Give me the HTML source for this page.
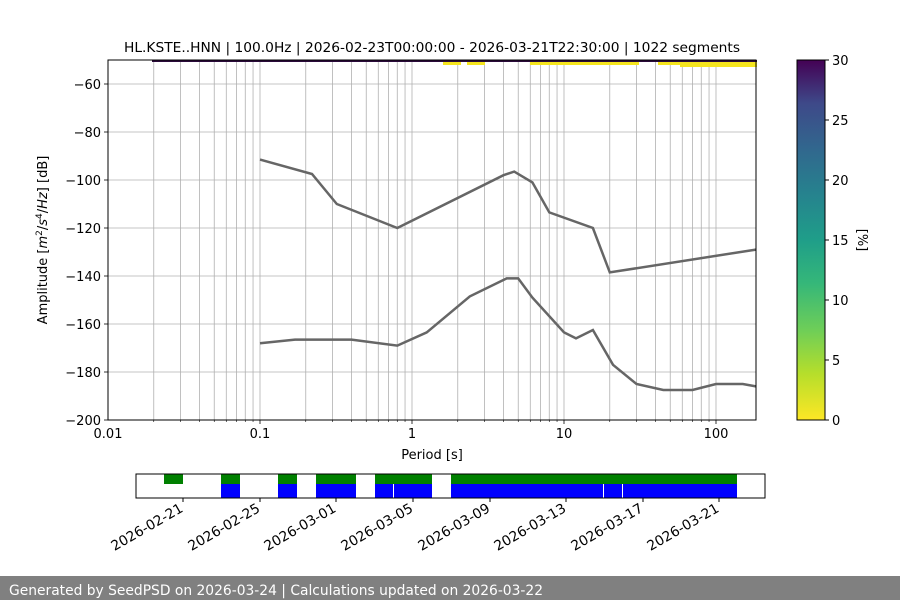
<!DOCTYPE html>
<html><head><meta charset="utf-8"><style>
body{margin:0;width:900px;height:600px;background:#fff;overflow:hidden;font-family:"Liberation Sans","DejaVu Sans",sans-serif}
svg text{font-family:"DejaVu Sans","Liberation Sans",sans-serif;fill:#000}
</style></head><body>
<svg id="s" width="900" height="600" xmlns="http://www.w3.org/2000/svg">
<defs><linearGradient id="vir" x1="0" y1="1" x2="0" y2="0">
<stop offset="0" stop-color="#fde725"/><stop offset="0.13" stop-color="#b5de2b"/><stop offset="0.25" stop-color="#6ece58"/><stop offset="0.38" stop-color="#35b779"/><stop offset="0.5" stop-color="#1f9e89"/><stop offset="0.63" stop-color="#26828e"/><stop offset="0.75" stop-color="#31688e"/><stop offset="0.88" stop-color="#3e4989"/><stop offset="1" stop-color="#440154"/></linearGradient></defs>
<g id="grid"></g>
<rect x="152" y="60" width="605" height="2" fill="#2a0a3a"/>
<g fill="#f5e51e">
<rect x="443" y="62" width="18" height="3"/><rect x="467" y="62" width="18" height="3"/>
<rect x="530" y="62" width="109" height="3"/><rect x="658" y="62" width="99" height="3"/><rect x="680" y="64" width="77" height="3"/>
</g>
<g id="curves" fill="none" stroke="#666" stroke-width="2.5"></g>
<rect x="108" y="60" width="648" height="360" fill="none" stroke="#000" stroke-width="1"/>
<g id="ticks" stroke="#000"></g>
<g font-size="13" text-anchor="end">
<text x="101" y="89">−60</text><text x="101" y="137">−80</text><text x="101" y="185">−100</text><text x="101" y="233">−120</text><text x="101" y="281">−140</text><text x="101" y="329">−160</text><text x="101" y="377">−180</text><text x="101" y="425">−200</text>
</g>
<g font-size="13" text-anchor="middle">
<text x="108" y="438">0.01</text><text x="260" y="438">0.1</text><text x="412" y="438">1</text><text x="564" y="438">10</text><text x="716" y="438">100</text>
<text x="432" y="459">Period [s]</text>
</g>
<text x="124" y="52" font-size="13.6" textLength="616" lengthAdjust="spacingAndGlyphs">HL.KSTE..HNN | 100.0Hz | 2026-02-23T00:00:00 - 2026-03-21T22:30:00 | 1022 segments</text>
<text font-size="13" text-anchor="middle" transform="translate(47,240) rotate(-90)">Amplitude [<tspan font-style="italic">m</tspan><tspan font-size="9" dy="-5">2</tspan><tspan dy="5">/</tspan><tspan font-style="italic">s</tspan><tspan font-size="9" dy="-5">4</tspan><tspan dy="5">/</tspan><tspan font-style="italic">Hz</tspan>] [dB]</text>
<rect x="797" y="60" width="28" height="360" fill="url(#vir)"/>
<rect x="797" y="60" width="28" height="360" fill="none" stroke="#000"/>
<g stroke="#000"><line x1="825" x2="829" y1="420" y2="420"/><line x1="825" x2="829" y1="360" y2="360"/><line x1="825" x2="829" y1="300" y2="300"/><line x1="825" x2="829" y1="240" y2="240"/><line x1="825" x2="829" y1="180" y2="180"/><line x1="825" x2="829" y1="120" y2="120"/><line x1="825" x2="829" y1="60" y2="60"/></g>
<g font-size="13"><text x="832" y="425">0</text><text x="832" y="365">5</text><text x="832" y="305">10</text><text x="832" y="245">15</text><text x="832" y="185">20</text><text x="832" y="125">25</text><text x="832" y="65">30</text></g>
<text font-size="13" text-anchor="middle" transform="translate(858,240) rotate(90)">[%]</text>
<g fill="#008000"><rect x="164" y="474" width="19" height="10"/><rect x="221" y="474" width="19" height="10"/><rect x="278" y="474" width="19" height="10"/><rect x="316" y="474" width="40" height="10"/><rect x="375" y="474" width="57" height="10"/><rect x="451" y="474" width="286" height="10"/></g>
<g fill="#0000ff"><rect x="221" y="484" width="19" height="14"/><rect x="278" y="484" width="19" height="14"/><rect x="316" y="484" width="40" height="14"/><rect x="375" y="484" width="18" height="14"/><rect x="394" y="484" width="38" height="14"/><rect x="451" y="484" width="152" height="14"/><rect x="604" y="484" width="18" height="14"/><rect x="623" y="484" width="114" height="14"/></g>
<rect x="136" y="474" width="629" height="24" fill="none" stroke="#000"/>
<g stroke="#000"><line x1="183" x2="183" y1="498" y2="502"/><line x1="260" x2="260" y1="498" y2="502"/><line x1="336" x2="336" y1="498" y2="502"/><line x1="413" x2="413" y1="498" y2="502"/><line x1="490" x2="490" y1="498" y2="502"/><line x1="566" x2="566" y1="498" y2="502"/><line x1="643" x2="643" y1="498" y2="502"/><line x1="719" x2="719" y1="498" y2="502"/></g>
<g font-size="13.8" text-anchor="end">
<text transform="translate(184,511) rotate(-30)">2026-02-21</text>
<text transform="translate(261,511) rotate(-30)">2026-02-25</text>
<text transform="translate(337,511) rotate(-30)">2026-03-01</text>
<text transform="translate(414,511) rotate(-30)">2026-03-05</text>
<text transform="translate(491,511) rotate(-30)">2026-03-09</text>
<text transform="translate(567,511) rotate(-30)">2026-03-13</text>
<text transform="translate(644,511) rotate(-30)">2026-03-17</text>
<text transform="translate(720,511) rotate(-30)">2026-03-21</text>
</g>
<rect x="0" y="576" width="900" height="24" fill="#808080"/>
<text x="9" y="595" font-size="14" textLength="534" lengthAdjust="spacingAndGlyphs" style="fill:#fff">Generated by SeedPSD on 2026-03-24 | Calculations updated on 2026-03-22</text>
</svg>
<script>
var NS="http://www.w3.org/2000/svg";
function X(p){return 108+152*(Math.log10(p)+2)}
function Y(v){return 420-2.4*(v+200)}
function el(t,a,par){var e=document.createElementNS(NS,t);for(var k in a)e.setAttribute(k,a[k]);document.getElementById(par).appendChild(e);}
for(var d=-2;d<=2;d++)for(var m=1;m<=9;m++){var p=m*Math.pow(10,d);var x=X(p);if(x<=108.5||x>756)continue;
 el("line",{x1:x,x2:x,y1:60,y2:420,stroke:"#b0b0b0","stroke-width":0.8},"grid");
 el("line",{x1:x,x2:x,y1:420,y2:m==1?424:422,"stroke-width":m==1?0.8:0.6},"ticks");}
for(var v=-200;v<=-60;v+=20){var y=Y(v);el("line",{x1:108,x2:756,y1:y,y2:y,stroke:"#b0b0b0","stroke-width":0.8},"grid");el("line",{x1:104,x2:108,y1:y,y2:y,"stroke-width":0.8},"ticks");}
var up=[[0.1,-91.5],[0.22,-97.5],[0.32,-110],[0.8,-120],[4,-98],[4.7,-96.5],[6.2,-101],[8,-113.5],[15.5,-120],[20,-138.5],[183,-129]];
var lo=[[0.1,-168],[0.17,-166.5],[0.4,-166.5],[0.8,-169],[1.25,-163.5],[2.4,-148.5],[4.2,-141],[5,-141],[6.2,-149],[10,-163.5],[12,-166],[15.5,-162.5],[21,-177],[30,-185],[45,-187.5],[70,-187.5],[100,-185],[150,-185],[183,-186]];
[up,lo].forEach(function(c){el("polyline",{points:c.map(function(q){return X(q[0]).toFixed(1)+","+Y(q[1]).toFixed(1)}).join(" ")},"curves")});
</script>
</body></html>
